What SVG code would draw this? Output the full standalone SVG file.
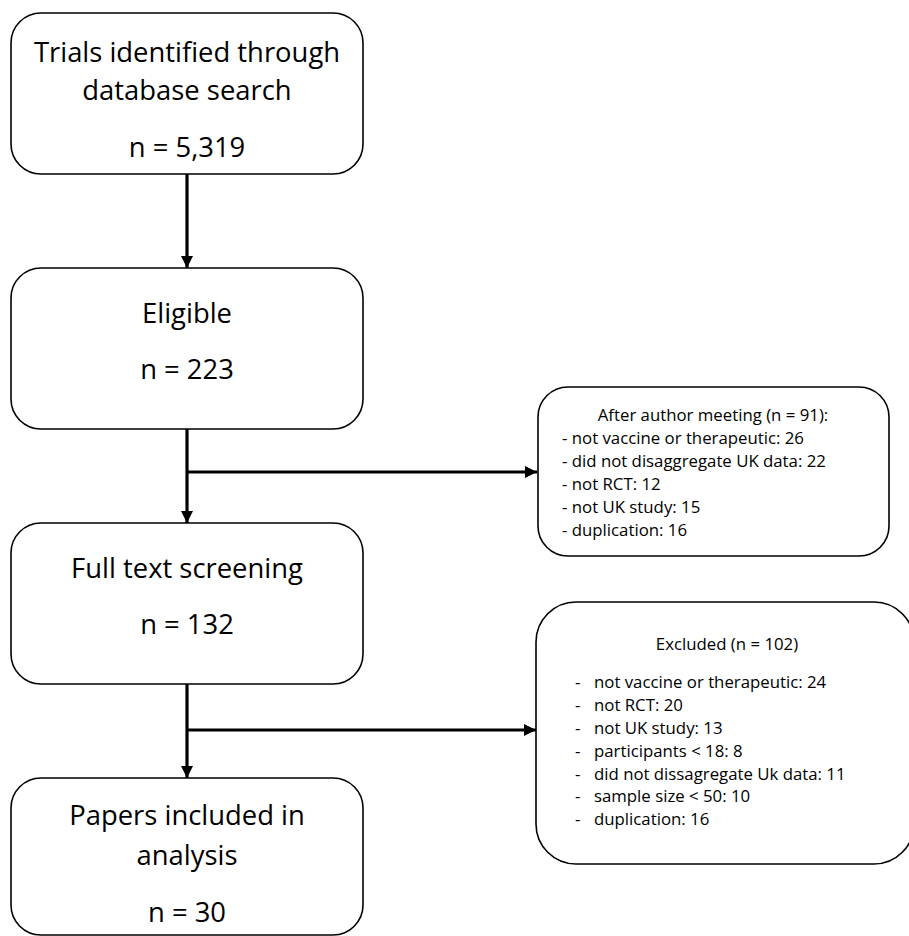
<svg xmlns="http://www.w3.org/2000/svg" width="909" height="936" viewBox="0 0 909 936">
<style>
.box{fill:#fff;stroke:#000;stroke-width:1.6}
.big{font-family:"Open Sans","Liberation Sans",sans-serif;font-size:27.4px;fill:#000;text-anchor:middle}
.sm{font-family:"Open Sans","Liberation Sans",sans-serif;font-size:16.8px;fill:#000}
.mid{text-anchor:middle}
.con{fill:none;stroke:#000;stroke-width:3.2}
</style>
<defs>
<marker id="arr" markerUnits="userSpaceOnUse" markerWidth="12" markerHeight="12" viewBox="0 0 12 12" refX="12" refY="6" orient="auto">
<path d="M0,0 L12,6 L0,12 Z" fill="#000"/>
</marker>
</defs>
<rect width="909" height="936" fill="#fff"/>
<g id="connectors">
<line class="con" x1="187" y1="174" x2="187" y2="268" marker-end="url(#arr)"/>
<line class="con" x1="187" y1="429" x2="187" y2="523" marker-end="url(#arr)"/>
<line class="con" x1="186" y1="472" x2="537" y2="472" marker-end="url(#arr)"/>
<line class="con" x1="187" y1="684" x2="187" y2="778" marker-end="url(#arr)"/>
<line class="con" x1="186" y1="730" x2="536" y2="730" marker-end="url(#arr)"/>
</g>
<g id="n1">
<rect class="box" x="11" y="13" width="352" height="161" rx="30"/>
<text class="big" x="187" y="62">Trials identified through</text>
<text class="big" x="187" y="100">database search</text>
<text class="big" x="187" y="157">n = 5,319</text>
</g>
<g id="n2">
<rect class="box" x="11" y="268" width="352" height="161" rx="30"/>
<text class="big" x="187" y="323">Eligible</text>
<text class="big" x="187" y="379">n = 223</text>
</g>
<g id="n3">
<rect class="box" x="11" y="523" width="352" height="161" rx="30"/>
<text class="big" x="187" y="578">Full text screening</text>
<text class="big" x="187" y="634">n = 132</text>
</g>
<g id="n4">
<rect class="box" x="11" y="778" width="352" height="157" rx="30"/>
<text class="big" x="187" y="825">Papers included in</text>
<text class="big" x="187" y="865">analysis</text>
<text class="big" x="187" y="922">n = 30</text>
</g>
<g id="r1">
<rect class="box" x="538" y="387" width="351" height="169" rx="30"/>
<text class="sm mid" x="713" y="421">After author meeting (n = 91):</text>
<text class="sm" x="562" y="444">- not vaccine or therapeutic: 26</text>
<text class="sm" x="562" y="467">- did not disaggregate UK data: 22</text>
<text class="sm" x="562" y="490">- not RCT: 12</text>
<text class="sm" x="562" y="513">- not UK study: 15</text>
<text class="sm" x="562" y="536">- duplication: 16</text>
</g>
<g id="r2">
<rect class="box" x="536" y="602" width="378" height="262" rx="40"/>
<text class="sm mid" x="727" y="650">Excluded (n = 102)</text>
<g class="sm">
<text x="575" y="688">-</text><text x="594" y="688">not vaccine or therapeutic: 24</text>
<text x="575" y="711">-</text><text x="594" y="711">not RCT: 20</text>
<text x="575" y="734">-</text><text x="594" y="734">not UK study: 13</text>
<text x="575" y="757">-</text><text x="594" y="757">participants &lt; 18: 8</text>
<text x="575" y="780">-</text><text x="594" y="780">did not dissagregate Uk data: 11</text>
<text x="575" y="802">-</text><text x="594" y="802">sample size &lt; 50: 10</text>
<text x="575" y="825">-</text><text x="594" y="825">duplication: 16</text>
</g>
</g>
</svg>
